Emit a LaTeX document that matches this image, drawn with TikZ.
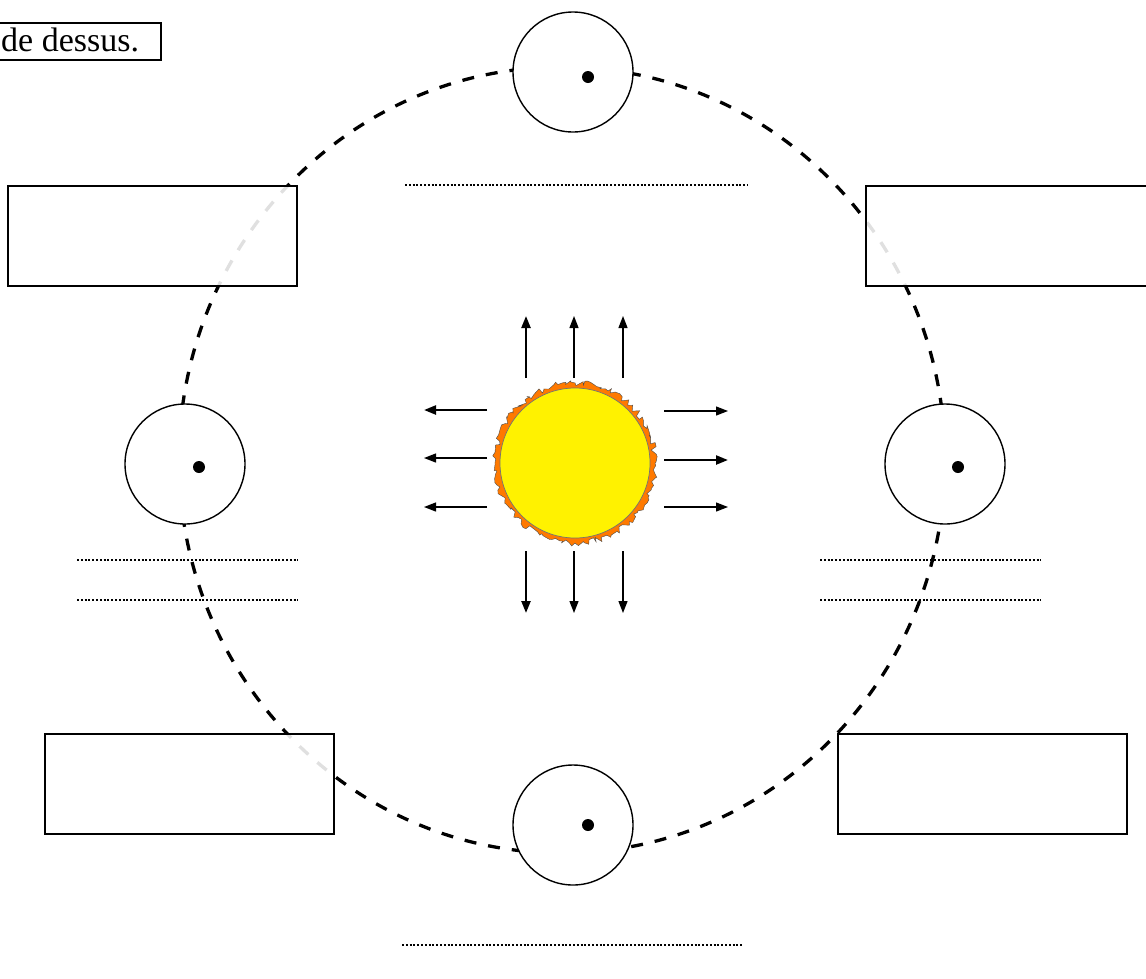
\documentclass[tikz,border=0pt]{standalone}
\usepackage{fontspec}
\setmainfont{Liberation Serif}
\usetikzlibrary{arrows.meta,decorations.pathmorphing}
\begin{document}
\begin{tikzpicture}[x=1pt,y=-1pt,
  orbit/.style={line width=3.3pt, dash pattern=on 12pt off 12pt},
  planet/.style={circle, draw, line width=1.4pt, fill=white, minimum size=120pt, inner sep=0pt},
  dotmark/.style={circle, fill=black, minimum size=12pt, inner sep=0pt},
  labelbox/.style={draw, line width=1.8pt, fill=white, fill opacity=0.88, minimum width=289pt, minimum height=100pt, inner sep=0pt},
  answerline/.style={line width=2pt, dash pattern=on 2pt off 1.8pt},
  ray/.style={line width=1.3pt, -{Triangle[length=12pt,width=9pt]}},
  bigray/.style={ray, line width=2.3pt}]
\useasboundingbox (0,0) rectangle (1146,978);
\clip (0,0) rectangle (1146,978);

% orbit
\draw[orbit] (562,460) ellipse [x radius=383, y radius=393];

% title box
\draw[line width=1.6pt] (-20,23) rectangle (161,60);
\node[anchor=base west, font=\fontsize{34}{36}\selectfont, inner sep=0pt] (title) at (1,51) {de dessus.};

% planets with their marker dots
\node[planet] (ptop) at (573,72) {};
\node[planet] (pleft) at (185,464) {};
\node[planet] (pright) at (945,464) {};
\node[planet] (pbottom) at (573,825) {};
\node[dotmark] (dtop) at (588,77) {};
\node[dotmark] (dleft) at (199,467) {};
\node[dotmark] (dright) at (958,467) {};
\node[dotmark] (dbottom) at (588,825) {};

% label boxes
\node[labelbox] (btl) at (152.5,236) {};
\node[labelbox] (btr) at (1010.5,236) {};
\node[labelbox] (bbl) at (189.5,784) {};
\node[labelbox] (bbr) at (982.5,784) {};

% answer lines
\draw[answerline] (405,185) -- (748,185);
\draw[answerline] (77,560) -- (298,560);
\draw[answerline] (77,600) -- (298,600);
\draw[answerline] (820,560) -- (1041,560);
\draw[answerline] (820,600) -- (1041,600);
\draw[answerline] (402,945) -- (743,945);

% sun
\pgfmathsetseed{7}
\fill[orange!95!red, draw=black!70, line width=0.4pt,
  decorate, decoration={random steps, segment length=3pt, amplitude=3pt}]
  (575,463) circle [radius=80];
\node[circle, fill=yellow, draw=black!55, line width=0.7pt, minimum size=150pt, inner sep=0pt] (sun) at (575,463) {};

% rays
\coordinate (u1a) at (526,378); \coordinate (u1b) at (526,316);
\coordinate (u2a) at (574,378); \coordinate (u2b) at (574,316);
\coordinate (u3a) at (623,378); \coordinate (u3b) at (623,316);
\coordinate (d1a) at (526,551); \coordinate (d1b) at (526,613);
\coordinate (d2a) at (574,551); \coordinate (d2b) at (574,613);
\coordinate (d3a) at (623,551); \coordinate (d3b) at (623,613);
\coordinate (l1a) at (487,410); \coordinate (l1b) at (424,410);
\coordinate (l2a) at (487,458); \coordinate (l2b) at (424,458);
\coordinate (l3a) at (487,507); \coordinate (l3b) at (424,507);
\coordinate (r1a) at (664,411); \coordinate (r1b) at (728,411);
\coordinate (r2a) at (664,460); \coordinate (r2b) at (728,460);
\coordinate (r3a) at (664,507); \coordinate (r3b) at (728,507);
\draw[bigray] (u1a) -- (u1b);
\draw[ray] (u2a) -- (u2b);
\draw[ray] (u3a) -- (u3b);
\draw[bigray] (d1a) -- (d1b);
\draw[ray] (d2a) -- (d2b);
\draw[ray] (d3a) -- (d3b);
\draw[bigray] (l1a) -- (l1b);
\draw[ray] (l2a) -- (l2b);
\draw[ray] (l3a) -- (l3b);
\draw[ray] (r1a) -- (r1b);
\draw[bigray] (r2a) -- (r2b);
\draw[ray] (r3a) -- (r3b);
\end{tikzpicture}
\end{document}
